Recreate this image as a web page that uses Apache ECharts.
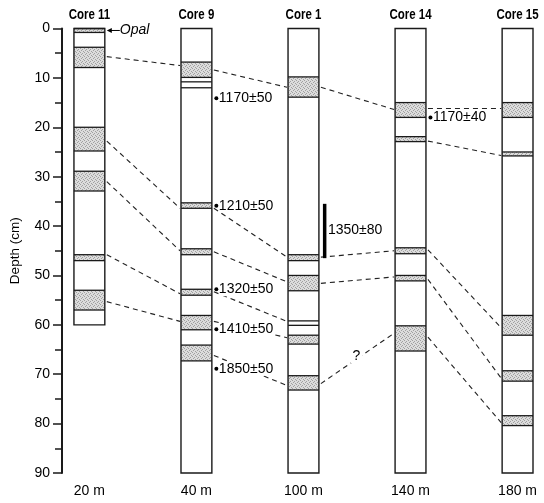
<!DOCTYPE html>
<html>
<head>
<meta charset="utf-8">
<script src="https://cdn.jsdelivr.net/npm/echarts@6/dist/echarts.min.js"></script>
<style>html,body{margin:0;padding:0;background:#fff}#chart{width:544px;height:503px}</style>
</head>
<body>
<div id="chart"></div>
<script>
// ---- data ----
const coreNames = ['Core 11', 'Core 9', 'Core 1', 'Core 14', 'Core 15'];
const coreDistances = ['20 m', '40 m', '100 m', '140 m', '180 m'];
const coreBottoms = [60, 90, 90, 90, 90];
// layers: [top depth, bottom depth, stippled (1) or blank (0)]
const layersCore11 = [[0, 0.8, 1], [3.8, 7.9, 1], [20, 24.8, 1], [28.9, 32.9, 1], [45.8, 47, 1], [53, 57, 1]];
const layersCore9 = [[6.8, 9.9, 1], [10.8, 12, 0], [35.3, 36.4, 1], [44.6, 45.8, 1], [52.8, 54, 1], [58.1, 61, 1], [64.1, 67.3, 1]];
const layersCore1 = [[9.8, 13.9, 1], [45.8, 47, 1], [50, 53.1, 1], [59.2, 60.1, 0], [62.1, 63.9, 1], [70.3, 73.2, 1]];
const layersCore14 = [[15, 18, 1], [21.9, 22.9, 1], [44.4, 45.6, 1], [50, 51.1, 1], [60.2, 65.3, 1]];
const layersCore15 = [[15, 18, 1], [25, 25.8, 1], [58.1, 62.1, 1], [69.3, 71.4, 1], [78.4, 80.4, 1]];
const coreLayers = [layersCore11, layersCore9, layersCore1, layersCore14, layersCore15];
// correlations: [from core index, depth at that core, depth at next core, label]
const correlations = [
  [0, 5.7, 7.5, ''], [1, 8.4, 11.9, ''], [2, 11.9, 16.4, ''], [3, 16.2, 16.2, ''],
  [0, 22.8, 36.4, ''], [1, 36.4, 46.3, ''],
  [0, 31.0, 45.0, ''], [1, 45.2, 51.3, ''],
  [0, 45.8, 53.7, ''], [1, 53.3, 59.3, ''],
  [0, 55.3, 59.3, ''], [1, 59.3, 62.6, ''],
  [1, 66.2, 72.3, ''],
  [2, 46.3, 45.0, ''], [2, 51.6, 50.3, ''], [2, 71.9, 61.7, '?'],
  [3, 22.8, 25.7, ''], [3, 44.8, 60.6, ''], [3, 50.8, 70.8, ''], [3, 62.5, 79.8, '']
];
// radiocarbon dates: [core index, depth, label]
const dates = [[1, 14.1, '1170±50'], [1, 35.9, '1210±50'], [1, 52.8, '1320±50'], [1, 60.9, '1410±50'], [1, 68.9, '1850±50'], [3, 18.0, '1170±40']];
// date ranges: [core index, top depth, bottom depth, label]
const dateRanges = [[2, 35.5, 46.5, '1350±80']];
// marker notes: [core index, depth, label]
const notes = [[0, 0.4, 'Opal']];
const yTicks = [0, 10, 20, 30, 40, 50, 60, 70, 80, 90];

// ---- stipple pattern ----
const pc = document.createElement('canvas');
pc.width = 4; pc.height = 4;
const pctx = pc.getContext('2d');
pctx.fillStyle = '#dcdcdc'; pctx.fillRect(0, 0, 4, 4);
pctx.fillStyle = '#a0a0a0';
pctx.fillRect(0, 0, 1, 1); pctx.fillRect(2, 1, 1, 1); pctx.fillRect(1, 2, 1, 1); pctx.fillRect(3, 3, 1, 1);
const stipple = {image: pc, repeat: 'repeat'};

const FONT = "'Liberation Sans', Arial, sans-serif";
const HALF = 0.1442; // half column width as fraction of core spacing
const ink = '#1a1a1a';

const chart = echarts.init(document.getElementById('chart'), null, {renderer: 'canvas'});

function halfW(api) { return api.size([1, 0])[0] * HALF; }

const option = {
  animation: false,
  backgroundColor: '#fff',
  grid: {left: 60, right: 10, top: 28.5, bottom: 30},
  xAxis: {
    type: 'value', min: -0.2558, max: 4.1535, show: false
  },
  yAxis: {
    type: 'value', inverse: true, min: 0, max: 90, interval: 10,
    name: 'Depth (cm)', nameLocation: 'middle', nameRotate: 90, nameGap: 40,
    nameTextStyle: {color: '#000', fontSize: 13.5, fontFamily: FONT},
    axisLine: {show: true, onZero: false, lineStyle: {color: ink, width: 2}},
    axisTick: {show: true, length: 9, lineStyle: {color: ink, width: 1.5}},
    minorTick: {show: true, splitNumber: 2, length: 7, lineStyle: {color: ink, width: 1.5}},
    splitLine: {show: false},
    axisLabel: {color: '#000', fontSize: 14, fontFamily: FONT, margin: 12,
      formatter: v => (yTicks.indexOf(v) >= 0 ? String(v) : '')}
  },
  series: [
    {
      type: 'custom', name: 'correlations', z: 1,
      data: correlations,
      renderItem: function (params, api) {
        const i = api.value(0);
        const hw = halfW(api);
        const p1 = api.coord([i, api.value(1)]);
        const p2 = api.coord([i + 1, api.value(2)]);
        const x1 = p1[0] + hw + 2, x2 = p2[0] - hw - 1;
        const children = [{
          type: 'line', shape: {x1: x1, y1: p1[1], x2: x2, y2: p2[1]},
          style: {stroke: '#222', lineWidth: 1.1, lineDash: [5, 4]}
        }];
        const lab = correlations[params.dataIndex][3];
        if (lab) {
          children.push({
            type: 'text', z2: 5,
            style: {text: lab, x: (x1 + x2) / 2 - 1, y: (p1[1] + p2[1]) / 2 - 2, align: 'center', verticalAlign: 'middle',
              fontSize: 14, fontFamily: FONT, fill: '#000', backgroundColor: '#fff', padding: [0, 2]}
          });
        }
        return {type: 'group', children: children};
      }
    },
    {
      type: 'custom', name: 'cores', z: 2,
      data: coreBottoms.map((b, i) => [i, b]),
      renderItem: function (params, api) {
        const i = api.value(0);
        const hw = halfW(api);
        const top = api.coord([i, 0]);
        const bot = api.coord([i, api.value(1)]);
        const axisBottom = api.coord([i, 90])[1];
        const x = top[0] - hw, w = 2 * hw;
        const children = [{type: 'rect', shape: {x: x, y: top[1], width: w, height: bot[1] - top[1]}, style: {fill: '#fff', stroke: null}}];
        coreLayers[i].forEach(L => {
          const a = api.coord([i, L[0]])[1], b = api.coord([i, L[1]])[1];
          if (L[2]) children.push({type: 'rect', shape: {x: x, y: a, width: w, height: b - a}, style: {fill: stipple, stroke: null}});
          children.push({type: 'line', shape: {x1: x, y1: a, x2: x + w, y2: a}, style: {stroke: ink, lineWidth: 1.3}});
          children.push({type: 'line', shape: {x1: x, y1: b, x2: x + w, y2: b}, style: {stroke: ink, lineWidth: 1.3}});
        });
        children.push({type: 'rect', shape: {x: x, y: top[1], width: w, height: bot[1] - top[1]}, style: {fill: 'none', stroke: ink, lineWidth: 1.4}});
        children.push({type: 'text', x: top[0], y: top[1] - 13, scaleX: 0.82,
          style: {text: coreNames[i], x: 0, y: 0, align: 'center', verticalAlign: 'middle',
          fontSize: 14, fontWeight: 'bold', fontFamily: FONT, fill: '#000'}});
        children.push({type: 'text', style: {text: coreDistances[i], x: top[0], y: axisBottom + 18, align: 'center', verticalAlign: 'middle',
          fontSize: 14, fontFamily: FONT, fill: '#000'}});
        return {type: 'group', children: children};
      }
    },
    {
      type: 'custom', name: 'dates', z: 3,
      data: dates,
      renderItem: function (params, api) {
        const i = api.value(0);
        const hw = halfW(api);
        const p = api.coord([i, api.value(1)]);
        const cx = p[0] + hw + 4.5;
        return {type: 'group', children: [
          {type: 'circle', shape: {cx: cx, cy: p[1], r: 2}, style: {fill: '#000'}},
          {type: 'text', style: {text: dates[params.dataIndex][2], x: cx + 2.5, y: p[1], align: 'left', verticalAlign: 'middle',
            fontSize: 14, fontFamily: FONT, fill: '#000', backgroundColor: '#fff'}}
        ]};
      }
    },
    {
      type: 'custom', name: 'dateRanges', z: 3,
      data: dateRanges,
      renderItem: function (params, api) {
        const i = api.value(0);
        const hw = halfW(api);
        const a = api.coord([i, api.value(1)]);
        const b = api.coord([i, api.value(2)]);
        const bx = a[0] + hw + 4;
        return {type: 'group', children: [
          {type: 'rect', shape: {x: bx, y: a[1], width: 3.5, height: b[1] - a[1]}, style: {fill: '#000'}},
          {type: 'text', style: {text: dateRanges[params.dataIndex][3], x: bx + 5, y: (a[1] + b[1]) / 2 - 1, align: 'left', verticalAlign: 'middle',
            fontSize: 14, fontFamily: FONT, fill: '#000'}}
        ]};
      }
    },
    {
      type: 'custom', name: 'notes', z: 3,
      data: notes,
      renderItem: function (params, api) {
        const i = api.value(0);
        const hw = halfW(api);
        const p = api.coord([i, api.value(1)]);
        const x0 = p[0] + hw + 2, x1 = x0 + 13;
        return {type: 'group', children: [
          {type: 'line', shape: {x1: x0 + 4, y1: p[1], x2: x1, y2: p[1]}, style: {stroke: '#000', lineWidth: 1}},
          {type: 'polygon', shape: {points: [[x0, p[1]], [x0 + 5, p[1] - 2.5], [x0 + 5, p[1] + 2.5]]}, style: {fill: '#000'}},
          {type: 'text', style: {text: notes[params.dataIndex][2], x: x1, y: p[1], align: 'left', verticalAlign: 'middle',
            fontSize: 14, fontStyle: 'italic', fontFamily: FONT, fill: '#000'}}
        ]};
      }
    }
  ]
};
chart.setOption(option);
</script>
</body>
</html>
